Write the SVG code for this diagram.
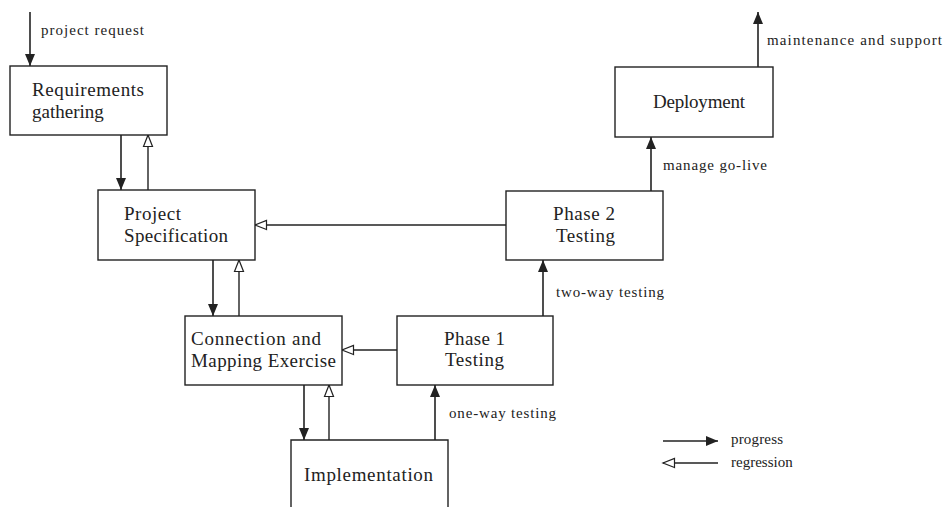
<svg xmlns="http://www.w3.org/2000/svg" width="943" height="507" viewBox="0 0 943 507">
<defs>
<style>
.box{fill:#fff;stroke:#222;stroke-width:1.4}
.n{font-family:'Liberation Serif','DejaVu Serif',serif;font-size:19px;fill:#222}
.l{font-family:'Liberation Serif','DejaVu Serif',serif;font-size:15px;fill:#222}
.p{stroke:#222;stroke-width:1.6;fill:none;marker-end:url(#fill)}
.r{stroke:#222;stroke-width:1.4;fill:none;marker-end:url(#open)}
</style>
<marker id="fill" markerUnits="userSpaceOnUse" markerWidth="14" markerHeight="12" refX="12" refY="5" orient="auto" overflow="visible">
<path d="M0,0 L12,5 L0,10 z" fill="#222"/>
</marker>
<marker id="open" markerUnits="userSpaceOnUse" markerWidth="14" markerHeight="12" refX="12" refY="5" orient="auto" overflow="visible">
<path d="M0.5,0.5 L12,5 L0.5,9.5 z" fill="#fff" stroke="#222" stroke-width="1.2"/>
</marker>
</defs>
<rect width="943" height="507" fill="#fff"/>
<g id="connectors">
<line class="p" x1="30" y1="12" x2="30" y2="66"/>
<line class="p" x1="121" y1="135" x2="121" y2="190"/>
<line class="r" x1="148" y1="190" x2="148" y2="135"/>
<line class="p" x1="213" y1="260" x2="213" y2="316"/>
<line class="r" x1="239" y1="316" x2="239" y2="260"/>
<line class="r" x1="506" y1="225" x2="255" y2="225"/>
<line class="p" x1="304" y1="385" x2="304" y2="440"/>
<line class="r" x1="329" y1="440" x2="329" y2="385"/>
<line class="r" x1="397" y1="350" x2="342" y2="350"/>
<line class="p" x1="435" y1="440" x2="435" y2="385"/>
<line class="p" x1="543" y1="316" x2="543" y2="260"/>
<line class="p" x1="651" y1="191" x2="651" y2="137"/>
<line class="p" x1="758" y1="67" x2="758" y2="12"/>
<text class="l" x="41" y="35" textLength="103" lengthAdjust="spacing">project request</text>
<text class="l" x="449" y="418" textLength="107" lengthAdjust="spacing">one-way testing</text>
<text class="l" x="556" y="297" textLength="108" lengthAdjust="spacing">two-way testing</text>
<text class="l" x="663" y="170" textLength="104" lengthAdjust="spacing">manage go-live</text>
<text class="l" x="767" y="45" textLength="175" lengthAdjust="spacing">maintenance and support</text>
</g>
<g id="req">
<rect class="box" x="10" y="66" width="157" height="69"/>
<text class="n" x="32" y="96" textLength="112" lengthAdjust="spacing">Requirements</text>
<text class="n" x="32" y="118">gathering</text>
</g>
<g id="spec">
<rect class="box" x="98" y="190" width="157" height="70"/>
<text class="n" x="124" y="220" textLength="57" lengthAdjust="spacing">Project</text>
<text class="n" x="124" y="242" textLength="104" lengthAdjust="spacing">Specification</text>
</g>
<g id="conn">
<rect class="box" x="185" y="316" width="157" height="69"/>
<text class="n" x="191" y="345" textLength="130" lengthAdjust="spacing">Connection and</text>
<text class="n" x="191" y="367" textLength="145" lengthAdjust="spacing">Mapping Exercise</text>
</g>
<g id="impl">
<path class="box" d="M291,507 V440 H448 V507"/>
<text class="n" x="304" y="481" textLength="129" lengthAdjust="spacing">Implementation</text>
</g>
<g id="phase1">
<rect class="box" x="397" y="316" width="156" height="69"/>
<text class="n" x="444" y="345" textLength="61" lengthAdjust="spacing">Phase 1</text>
<text class="n" x="445" y="366" textLength="59" lengthAdjust="spacing">Testing</text>
</g>
<g id="phase2">
<rect class="box" x="506" y="191" width="157" height="69"/>
<text class="n" x="553" y="220" textLength="62" lengthAdjust="spacing">Phase 2</text>
<text class="n" x="556" y="242" textLength="59" lengthAdjust="spacing">Testing</text>
</g>
<g id="deploy">
<rect class="box" x="615" y="67" width="158" height="70"/>
<text class="n" x="653" y="108" textLength="92" lengthAdjust="spacing">Deployment</text>
</g>
<g id="legend">
<line class="p" x1="663" y1="441" x2="718" y2="441"/>
<text class="l" x="731" y="444" textLength="52" lengthAdjust="spacing">progress</text>
<line class="r" x1="718" y1="463" x2="663" y2="463"/>
<text class="l" x="731" y="467">regression</text>
</g>
</svg>
